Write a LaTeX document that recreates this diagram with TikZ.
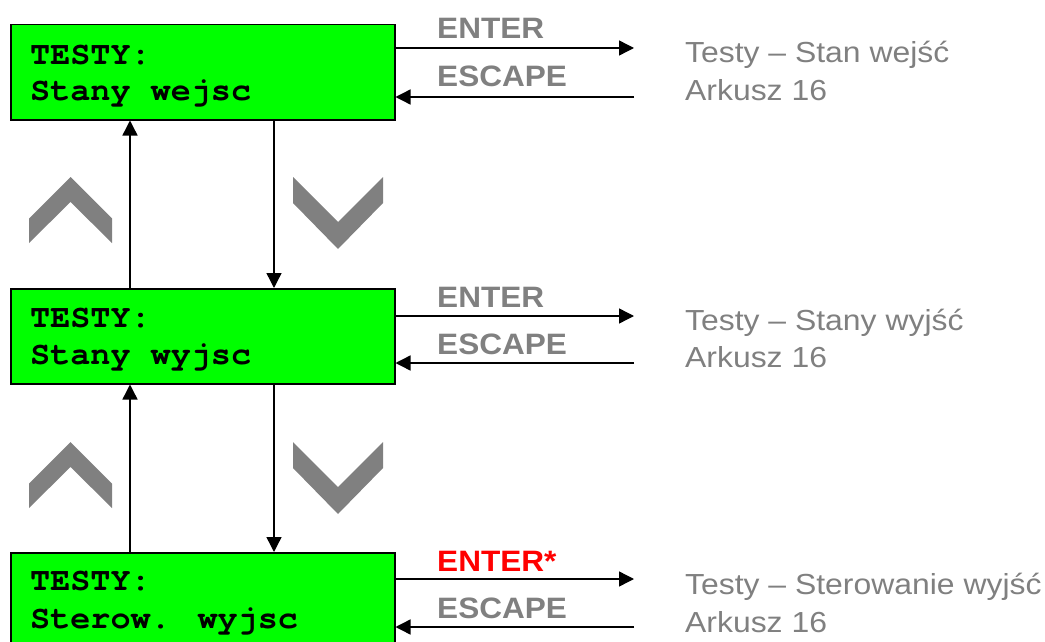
\documentclass[tikz,border=0pt]{standalone}
\usepackage{fontspec}
\setmainfont{Liberation Sans}[FakeStretch=1.07]
\newfontfamily\descfont{Liberation Sans}[FakeStretch=1.10]
\newfontfamily\lcdfont{texgyrecursor-bold.otf}[FakeStretch=1.03]
\usetikzlibrary{arrows.meta}
\definecolor{lcdgreen}{RGB}{0,255,0}
\definecolor{txtgray}{RGB}{128,128,128}
\definecolor{chevgray}{RGB}{128,128,128}
\definecolor{keyred}{RGB}{255,0,0}
\begin{document}
\begin{tikzpicture}[x=1pt,y=-1pt,
 lcdbox/.style={draw=black,fill=lcdgreen,line width=1.5pt,minimum width=384pt,minimum height=95pt,anchor=north west,inner sep=0pt},
 lcdtext/.style={anchor=base west,inner sep=0pt,font=\lcdfont\fontsize{32.5}{36}\selectfont},
 keylabel/.style={anchor=base west,inner sep=0pt,text=txtgray,font=\bfseries\fontsize{29.5}{32}\selectfont},
 desc/.style={anchor=base west,inner sep=0pt,text=txtgray,font=\descfont\fontsize{29}{32}\selectfont},
 conn/.style={line width=1.4pt,-{Triangle[length=15pt,width=15pt]}},
 chev/.style={fill=chevgray,draw=none}]
\useasboundingbox (0,0) rectangle (1045,642);

% boxes
\node[lcdbox] (b1) at (10,24) {};
\node[lcdbox] (b2) at (10,288) {};
\node[lcdbox] (b3) at (10,552) {};

% box texts
\node[lcdtext] (t1a) at (30,65) {TESTY:};
\node[lcdtext] (t1b) at (30,101) {Stany wejsc};
\node[lcdtext] (t2a) at (30,327) {TESTY:};
\node[lcdtext] (t2b) at (30,364) {Stany wyjsc};
\node[lcdtext] (t3a) at (30,590) {TESTY:};
\node[lcdtext] (t3b) at (30,628) {Sterow. wyjsc};

% key labels
\node[keylabel] (k1e) at (437,39) {ENTER};
\node[keylabel] (k1s) at (437,87) {ESCAPE};
\node[keylabel] (k2e) at (437,307) {ENTER};
\node[keylabel] (k2s) at (437,354) {ESCAPE};
\node[keylabel,text=keyred] (k3e) at (437,571) {ENTER*};
\node[keylabel] (k3s) at (437,618) {ESCAPE};

% descriptions
\node[desc] (d1a) at (685,63) {Testy – Stan wejść};
\node[desc] (d1b) at (685,100) {Arkusz 16};
\node[desc] (d2a) at (685,330) {Testy – Stany wyjść};
\node[desc] (d2b) at (685,367) {Arkusz 16};
\node[desc] (d3a) at (685,594) {Testy – Sterowanie wyjść};
\node[desc] (d3b) at (685,632) {Arkusz 16};

% horizontal connectors
\coordinate (e1) at (634,48);
\coordinate (s1) at (634,97);
\coordinate (e2) at (634,316);
\coordinate (s2) at (634,363);
\coordinate (e3) at (634,579);
\coordinate (s3) at (634,627);
\draw[conn] (b1.east |- e1) -- (e1);
\draw[conn] (s1) -- (b1.east |- s1);
\draw[conn] (b2.east |- e2) -- (e2);
\draw[conn] (s2) -- (b2.east |- s2);
\draw[conn] (b3.east |- e3) -- (e3);
\draw[conn] (s3) -- (b3.east |- s3);

% vertical connectors
\draw[conn] ([xshift=120pt]b2.north west) -- ([xshift=120pt]b1.south west);
\draw[conn] ([xshift=264pt]b1.south west) -- ([xshift=264pt]b2.north west);
\draw[conn] ([xshift=120pt]b3.north west) -- ([xshift=120pt]b2.south west);
\draw[conn] ([xshift=264pt]b2.south west) -- ([xshift=264pt]b3.north west);

% chevrons
\foreach \dy in {0,265}{
  \fill[chev] (70.5,177+\dy) -- (112,218.5+\dy) -- (112,243+\dy) -- (70.5,202+\dy) -- (29,243+\dy) -- (29,218.5+\dy) -- cycle;
  \fill[chev] (293,177+\dy) -- (338,222+\dy) -- (383,177+\dy) -- (383,203+\dy) -- (338,249+\dy) -- (293,203+\dy) -- cycle;
}
\end{tikzpicture}
\end{document}
